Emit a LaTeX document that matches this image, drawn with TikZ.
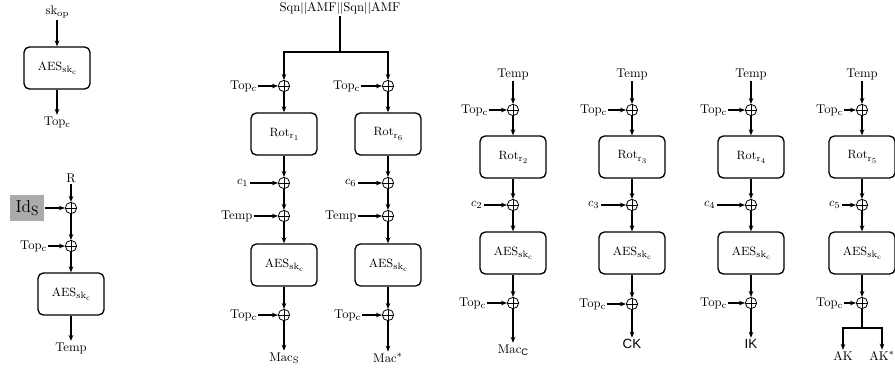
\documentclass[tikz,border=0pt]{standalone}
\usepackage{fontspec}
\newfontfamily\arialfont{Liberation Sans}
\usetikzlibrary{arrows.meta}

\newcommand{\lowsub}[2][7]{\raisebox{-0.45ex}{\fontsize{#1}{#1}\selectfont #2}}
\newcommand{\aeslbl}{AES\lowsub{sk\lowsub[5.5]{c}}}
\newcommand{\toplbl}{Top\lowsub{c}}

\tikzset{
  lbl/.style={inner sep=1pt, font=\fontsize{9.5}{11}\selectfont},
  blk/.style={draw, line width=1pt, rounded corners=4pt, minimum width=49.5pt, minimum height=31.5pt, inner sep=0pt, font=\fontsize{9}{10}\selectfont},
  xorop/.style={draw, circle, line width=0.6pt, minimum size=8.5pt, inner sep=0pt,
    path picture={\draw[line width=0.6pt] (path picture bounding box.north) -- (path picture bounding box.south)
      (path picture bounding box.west) -- (path picture bounding box.east);}},
  idbox/.style={fill=black!33, minimum width=26pt, minimum height=20pt, inner sep=0pt, font=\fontsize{13}{14}\selectfont},
  arr/.style={line width=1pt, -{Stealth[length=4.5pt,width=3.5pt]}},
  wire/.style={line width=1pt}
}

\begin{document}
\begin{tikzpicture}[x=0.75pt, y=-0.75pt]
  \useasboundingbox (0,0) rectangle (895,372);
  % key derivation of Top_c
  \node[lbl] (skop) at (57,12) {sk\lowsub{op}};
  \node[blk] (aesA) at (57,68) {\aeslbl};
  \node[lbl] (topA) at (57,122) {\toplbl};
  \draw[arr] (skop) -- (aesA);
  \draw[arr] (aesA) -- (topA);
  % Temp
  \node[lbl] (rnd) at (71,178) {R};
  \node[xorop] (xB1) at (71,208) {};
  \node[idbox] (ids) at (27,208) {Id\lowsub[10]{S}};
  \node[xorop] (xB2) at (71,246) {};
  \node[lbl, anchor=east] (topB) at (48,246) {\toplbl};
  \node[blk] (aesB) at (71,294) {\aeslbl};
  \node[lbl] (tempB) at (71,348) {Temp};
  \draw[arr] (rnd) -- (xB1);
  \draw[arr] (ids) -- (xB1);
  \draw[arr] (xB1) -- (xB2);
  \draw[arr] (topB) -- (xB2);
  \draw[arr] (xB2) -- (aesB);
  \draw[arr] (aesB) -- (tempB);
  % Mac_S and Mac*
  \node[lbl] (sqn) at (340,8) {Sqn$||$AMF$||$Sqn$||$AMF};
  \coordinate (split) at (340,52);
  \node[xorop] (xC1) at (284,86) {};
  \node[lbl, anchor=east] (topC1) at (258,86) {\toplbl};
  \node[blk] (rotC) at (284,134) {Rot\lowsub{r\lowsub[5.5]{1}}};
  \node[xorop] (xC2) at (284,183) {};
  \node[lbl, anchor=east] (cC) at (250,183) {$c_1$};
  \node[xorop] (xC3) at (284,216) {};
  \node[lbl, anchor=east] (tempC) at (254,216) {Temp};
  \node[blk] (aesC) at (284,265) {\aeslbl};
  \node[xorop] (xC4) at (284,315) {};
  \node[lbl, anchor=east] (topC2) at (258,315) {\toplbl};
  \node[lbl] (macS) at (284,358) {Mac\lowsub{S}};
  \node[xorop] (xD1) at (388,86) {};
  \node[lbl, anchor=east] (topD1) at (361,86) {\toplbl};
  \node[blk] (rotD) at (388,134) {Rot\lowsub{r\lowsub[5.5]{6}}};
  \node[xorop] (xD2) at (388,183) {};
  \node[lbl, anchor=east] (cD) at (358,183) {$c_6$};
  \node[xorop] (xD3) at (388,216) {};
  \node[lbl, anchor=east] (tempD) at (358,216) {Temp};
  \node[blk] (aesD) at (388,265) {\aeslbl};
  \node[xorop] (xD4) at (388,315) {};
  \node[lbl, anchor=east] (topD2) at (362,315) {\toplbl};
  \node[lbl] (macX) at (388,358) {Mac$^*$};
  \draw[wire] (sqn) -- (split);
  \draw[arr] (split) -| (xC1);
  \draw[arr] (split) -| (xD1);
  \draw[arr] (topC1) -- (xC1);
  \draw[arr] (xC1) -- (rotC);
  \draw[arr] (rotC) -- (xC2);
  \draw[arr] (cC) -- (xC2);
  \draw[arr] (xC2) -- (xC3);
  \draw[arr] (tempC) -- (xC3);
  \draw[arr] (xC3) -- (aesC);
  \draw[arr] (aesC) -- (xC4);
  \draw[arr] (topC2) -- (xC4);
  \draw[arr] (xC4) -- (macS);
  \draw[arr] (topD1) -- (xD1);
  \draw[arr] (xD1) -- (rotD);
  \draw[arr] (rotD) -- (xD2);
  \draw[arr] (cD) -- (xD2);
  \draw[arr] (xD2) -- (xD3);
  \draw[arr] (tempD) -- (xD3);
  \draw[arr] (xD3) -- (aesD);
  \draw[arr] (aesD) -- (xD4);
  \draw[arr] (topD2) -- (xD4);
  \draw[arr] (xD4) -- (macX);
  % Mac_C
  \node[lbl] (tempE) at (513,74) {Temp};
  \node[xorop] (xE1) at (513,110) {};
  \node[lbl, anchor=east] (topE1) at (489,110) {\toplbl};
  \node[blk] (rotE) at (513,157) {Rot\lowsub{r\lowsub[5.5]{2}}};
  \node[xorop] (xE2) at (513,205) {};
  \node[lbl, anchor=east] (cE) at (484,205) {$c_2$};
  \node[blk] (aesE) at (513,253) {\aeslbl};
  \node[xorop] (xE3) at (513,303) {};
  \node[lbl, anchor=east] (topE2) at (487,303) {\toplbl};
  \node[lbl] (macC) at (513,350) {Mac\lowsub{\arialfont C}};
  \draw[arr] (tempE) -- (xE1);
  \draw[arr] (topE1) -- (xE1);
  \draw[arr] (xE1) -- (rotE);
  \draw[arr] (rotE) -- (xE2);
  \draw[arr] (cE) -- (xE2);
  \draw[arr] (xE2) -- (aesE);
  \draw[arr] (aesE) -- (xE3);
  \draw[arr] (topE2) -- (xE3);
  \draw[arr] (xE3) -- (macC);
  % CK
  \node[lbl] (tempF) at (632,74) {Temp};
  \node[xorop] (xF1) at (632,110) {};
  \node[lbl, anchor=east] (topF1) at (608,110) {\toplbl};
  \node[blk] (rotF) at (632,157) {Rot\lowsub{r\lowsub[5.5]{3}}};
  \node[xorop] (xF2) at (632,205) {};
  \node[lbl, anchor=east] (cF) at (601,205) {$c_3$};
  \node[blk] (aesF) at (632,253) {\aeslbl};
  \node[xorop] (xF3) at (632,304) {};
  \node[lbl, anchor=east] (topF2) at (607,304) {\toplbl};
  \node[lbl, font=\arialfont\fontsize{10}{12}\selectfont] (ck) at (632,344) {CK};
  \draw[arr] (tempF) -- (xF1);
  \draw[arr] (topF1) -- (xF1);
  \draw[arr] (xF1) -- (rotF);
  \draw[arr] (rotF) -- (xF2);
  \draw[arr] (cF) -- (xF2);
  \draw[arr] (xF2) -- (aesF);
  \draw[arr] (aesF) -- (xF3);
  \draw[arr] (topF2) -- (xF3);
  \draw[arr] (xF3) -- (ck);
  % IK
  \node[lbl] (tempG) at (751,74) {Temp};
  \node[xorop] (xG1) at (751,110) {};
  \node[lbl, anchor=east] (topG1) at (728,110) {\toplbl};
  \node[blk] (rotG) at (751,157) {Rot\lowsub{r\lowsub[5.5]{4}}};
  \node[xorop] (xG2) at (751,205) {};
  \node[lbl, anchor=east] (cG) at (717,205) {$c_4$};
  \node[blk] (aesG) at (751,253) {\aeslbl};
  \node[xorop] (xG3) at (751,303) {};
  \node[lbl, anchor=east] (topG2) at (728,303) {\toplbl};
  \node[lbl, font=\arialfont\fontsize{10}{12}\selectfont] (ik) at (751,344) {IK};
  \draw[arr] (tempG) -- (xG1);
  \draw[arr] (topG1) -- (xG1);
  \draw[arr] (xG1) -- (rotG);
  \draw[arr] (rotG) -- (xG2);
  \draw[arr] (cG) -- (xG2);
  \draw[arr] (xG2) -- (aesG);
  \draw[arr] (aesG) -- (xG3);
  \draw[arr] (topG2) -- (xG3);
  \draw[arr] (xG3) -- (ik);
  % AK and AK*
  \node[lbl] (tempH) at (862,74) {Temp};
  \node[xorop] (xH1) at (862,110) {};
  \node[lbl, anchor=east] (topH1) at (844,110) {\toplbl};
  \node[blk] (rotH) at (862,157) {Rot\lowsub{r\lowsub[5.5]{5}}};
  \node[xorop] (xH2) at (862,205) {};
  \node[lbl, anchor=east] (cH) at (842,205) {$c_5$};
  \node[blk] (aesH) at (862,253) {\aeslbl};
  \node[xorop] (xH3) at (862,303) {};
  \node[lbl, anchor=east] (topH2) at (844,303) {\toplbl};
  \coordinate (akjoin) at (862,328);
  \node[lbl] (ak) at (843,356) {AK};
  \node[lbl] (akx) at (882,356) {AK$^*$};
  \draw[arr] (tempH) -- (xH1);
  \draw[arr] (topH1) -- (xH1);
  \draw[arr] (xH1) -- (rotH);
  \draw[arr] (rotH) -- (xH2);
  \draw[arr] (cH) -- (xH2);
  \draw[arr] (xH2) -- (aesH);
  \draw[arr] (aesH) -- (xH3);
  \draw[arr] (topH2) -- (xH3);
  \draw[wire] (xH3) -- (akjoin);
  \draw[arr] (akjoin) -| (ak);
  \draw[arr] (akjoin) -| (akx);
\end{tikzpicture}
\end{document}
